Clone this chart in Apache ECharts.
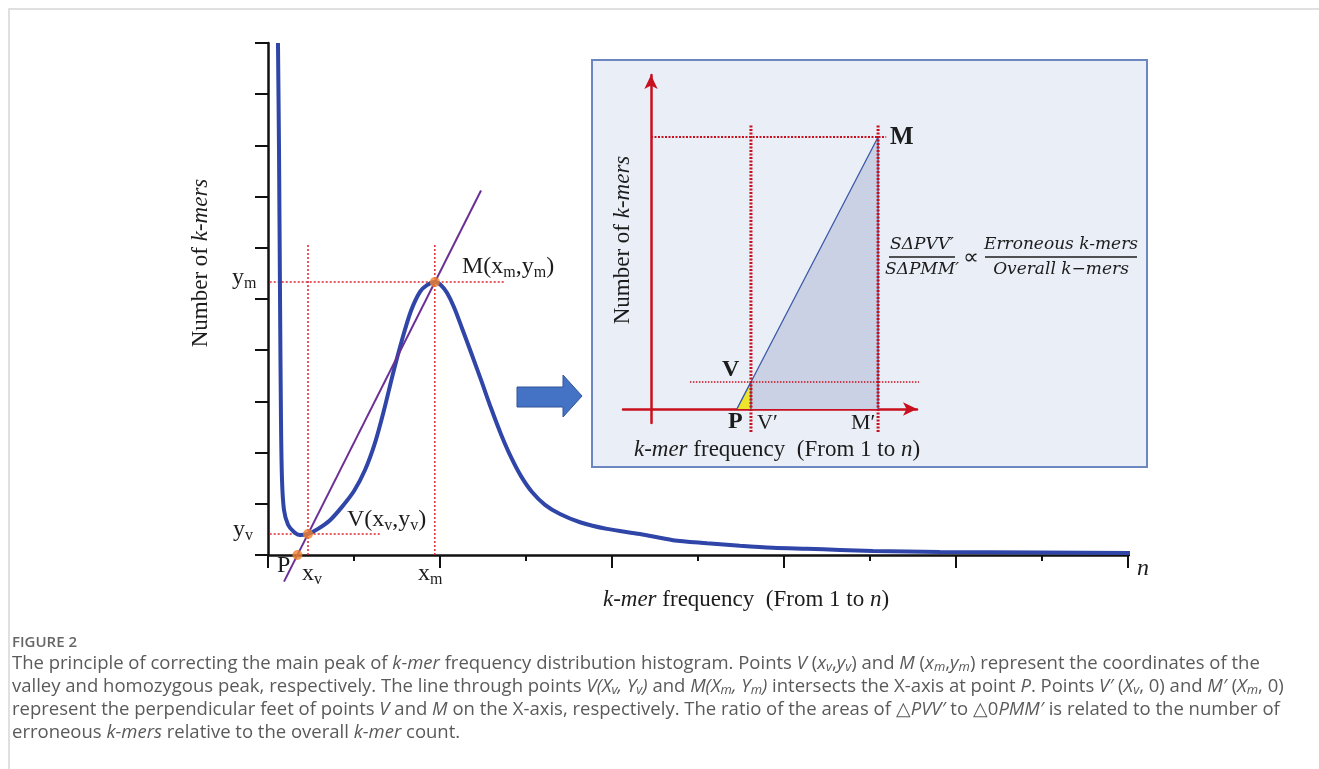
<!DOCTYPE html>
<html>
<head>
<meta charset="utf-8">
<script src="https://cdn.jsdelivr.net/npm/echarts@6/dist/echarts.min.js"></script>
<style>
html, body { margin: 0; padding: 0; background: #fff; }
#chart { width: 1319px; height: 769px; }
</style>
</head>
<body>
<div id="chart"></div>
<script>
// k-mer frequency curve (x: frequency, y: number of k-mers)
var freqX = [0.116, 0.128, 0.140, 0.151, 0.163, 0.186, 0.233, 0.302, 0.372, 0.465, 0.581, 0.721,
    0.860, 1.000, 1.128, 1.244, 1.349, 1.453, 1.558, 1.663, 1.767, 1.849, 1.940, 2.012,
    2.081, 2.163, 2.256, 2.360, 2.477, 2.593, 2.709, 2.826, 2.942, 3.070, 3.221, 3.395,
    3.628, 3.942, 4.326, 4.709, 5.105, 5.488, 5.872, 6.267, 6.651, 7.035, 7.814, 8.977, 10.17];
var countY = [10.0, 7.91, 4.98, 2.64, 1.46, 0.88, 0.59, 0.45, 0.39, 0.41, 0.51, 0.68,
    0.94, 1.25, 1.66, 2.19, 2.83, 3.54, 4.20, 4.77, 5.14, 5.27, 5.33, 5.27,
    5.12, 4.84, 4.43, 3.96, 3.42, 2.87, 2.36, 1.91, 1.54, 1.23, 0.98, 0.80,
    0.64, 0.51, 0.41, 0.29, 0.23, 0.18, 0.14, 0.12, 0.10, 0.08, 0.06, 0.05, 0.04];

// key points of the main plot
var valleyV = [0.465, 0.41];
var peakM = [1.94, 5.33];
var pointP = [0.342, 0];
var fitLineX = [0.186, 2.477];
var fitLineY = [-0.52, 7.12];
var guideTop = 6.09;
var ymGuideEnd = 2.76;
var yvGuideEnd = 1.30;
var axisEnd = 10.17;

// inset sketch (its own units)
var insetP = [3.07, 0];
var insetV = [3.57, 1.93];
var insetM = [8.11, 19.43];
var insetGuideY = [-1.64, 20.29];
var insetMGuideX = [0, 8.4];
var insetVGuideX = [1.39, 9.86];

var serif = "'Liberation Serif', 'Times New Roman', serif";
var sans = "'Open Sans', sans-serif";
var ink = '#1c1c1c';
var red = '#e0242b';
var darkRed = '#c8101e';
var capInk = '#5a5a5a';

var chart = echarts.init(document.getElementById('chart'));

function lineSeries(data, xi, color, width, type, z) {
    return {
        type: 'line', xAxisIndex: xi, yAxisIndex: xi, data: data,
        symbol: 'none', silent: true, clip: false, z: z || 5,
        lineStyle: { color: color, width: width, type: type || 'solid' }
    };
}

// rich text styles
function labRich(fs, sfs, fw) {
    return {
        b: { fontFamily: serif, fontSize: fs, fontWeight: fw, lineHeight: fs + 6, verticalAlign: 'middle', fill: ink },
        i: { fontFamily: serif, fontSize: fs, fontStyle: 'italic', lineHeight: fs + 6, verticalAlign: 'middle', fill: ink },
        s: { fontFamily: serif, fontSize: sfs, lineHeight: sfs + 2, height: sfs + 2, verticalAlign: 'bottom', fill: ink }
    };
}
function lab(x, y, text, fs, opt) {
    opt = opt || {};
    return {
        type: 'text', x: x, y: y, z: 20, rotation: opt.rot || 0, silent: true,
        style: {
            text: text, rich: labRich(fs, opt.sfs || 16, opt.fw || 'normal'),
            fontFamily: serif, fontSize: fs, lineHeight: fs + 6, fill: ink,
            align: opt.align || 'left', verticalAlign: 'middle'
        }
    };
}

var capRich = {
    i: { fontFamily: sans, fontSize: 18.5, fontStyle: 'italic', lineHeight: 22, verticalAlign: 'middle', fill: capInk },
    is: { fontFamily: sans, fontSize: 13, fontStyle: 'italic', lineHeight: 14, height: 15, verticalAlign: 'bottom', fill: capInk }
};
function cap(y, text) {
    return {
        type: 'text', x: 12, y: y, z: 20, silent: true,
        style: {
            text: text, rich: capRich, fontFamily: sans, fontSize: 18.5, lineHeight: 22,
            fill: capInk, align: 'left', verticalAlign: 'middle'
        }
    };
}
function mathText(x, y, text) {
    return {
        type: 'text', x: x, y: y, z: 20, silent: true,
        style: {
            text: text, fontFamily: "'DejaVu Serif', serif", fontStyle: 'italic', fontSize: 17,
            fill: ink, align: 'center', verticalAlign: 'middle'
        }
    };
}

var curve = freqX.map(function (x, i) { return [x, countY[i]]; });

var option = {
    animation: false,
    backgroundColor: '#fff',
    grid: [
        { left: 268, top: 43, width: 860, height: 512, outerBoundsMode: 'none' },
        { left: 623, top: 75, width: 294, height: 348, outerBoundsMode: 'none' }
    ],
    xAxis: [
        {
            type: 'value', gridIndex: 0, min: 0, max: 10, interval: 2, z: 3,
            axisLine: { show: true, onZero: false, lineStyle: { color: '#111', width: 2.5 } },
            axisTick: { show: true, length: 13, lineStyle: { color: '#111', width: 2 } },
            minorTick: { show: true, splitNumber: 2, length: 6, lineStyle: { color: '#111', width: 2 } },
            axisLabel: { show: false }, splitLine: { show: false }, minorSplitLine: { show: false }
        },
        {
            type: 'value', gridIndex: 1, min: -1, max: 9.5, z: 3,
            axisLine: { show: true, onZero: true, symbol: ['none', 'arrow'], symbolSize: [10, 14],
                lineStyle: { color: darkRed, width: 2.5 } },
            axisTick: { show: false }, axisLabel: { show: false }, splitLine: { show: false }
        }
    ],
    yAxis: [
        {
            type: 'value', gridIndex: 0, min: 0, max: 10, interval: 1, z: 3,
            axisLine: { show: true, onZero: false, lineStyle: { color: '#111', width: 2.5 } },
            axisTick: { show: true, length: 13, lineStyle: { color: '#111', width: 2 } },
            axisLabel: { show: false }, splitLine: { show: false }
        },
        {
            type: 'value', gridIndex: 1, min: -1, max: 23.86, z: 3,
            axisLine: { show: true, onZero: true, symbol: ['none', 'arrow'], symbolSize: [10, 14],
                lineStyle: { color: darkRed, width: 2.5 } },
            axisTick: { show: false }, axisLabel: { show: false }, splitLine: { show: false }
        }
    ],
    series: [
        // main plot
        lineSeries([[10, 0], [axisEnd, 0]], 0, '#111', 2.5, 'solid', 4),
        lineSeries([[0.02, peakM[1]], [ymGuideEnd, peakM[1]]], 0, red, 1.5, [2, 2], 5),
        lineSeries([[peakM[0], 0], [peakM[0], guideTop]], 0, red, 1.5, [2, 2], 5),
        lineSeries([[valleyV[0], 0], [valleyV[0], guideTop]], 0, red, 1.5, [2, 2], 5),
        lineSeries([[0.02, valleyV[1]], [yvGuideEnd, valleyV[1]]], 0, red, 1.5, [2, 2], 5),
        {
            type: 'line', xAxisIndex: 0, yAxisIndex: 0, data: curve, smooth: 0.3,
            symbol: 'none', silent: true, z: 6,
            lineStyle: { color: '#2f45a8', width: 4 }
        },
        lineSeries([[fitLineX[0], fitLineY[0]], [fitLineX[1], fitLineY[1]]], 0, '#6b2f96', 2, 'solid', 7),
        {
            type: 'scatter', xAxisIndex: 0, yAxisIndex: 0, data: [pointP, valleyV, peakM],
            symbolSize: 10, silent: true, z: 8,
            itemStyle: { color: '#f0822e' }
        },
        // inset sketch
        {
            type: 'line', xAxisIndex: 1, yAxisIndex: 1, z: 4, silent: true, symbol: 'none',
            data: [insetP, insetM, [insetM[0], 0]],
            lineStyle: { color: '#3d5aa8', width: 1.3 },
            areaStyle: { color: '#cad1e4', opacity: 1 }
        },
        {
            type: 'line', xAxisIndex: 1, yAxisIndex: 1, z: 5, silent: true, symbol: 'none',
            data: [insetP, insetV, [insetV[0], 0]],
            lineStyle: { color: '#3d5aa8', width: 1.3 },
            areaStyle: { color: '#ede52b', opacity: 1 }
        },
        lineSeries([[insetV[0], insetGuideY[0]], [insetV[0], insetGuideY[1]]], 1, darkRed, 3, [2, 1.5], 6),
        lineSeries([[insetM[0], insetGuideY[0]], [insetM[0], insetGuideY[1]]], 1, darkRed, 3, [2, 1.5], 6),
        lineSeries([[insetMGuideX[0], insetM[1]], [insetMGuideX[1], insetM[1]]], 1, darkRed, 2.2, [2, 1.5], 6),
        lineSeries([[insetVGuideX[0], insetV[1]], [insetVGuideX[1], insetV[1]]], 1, darkRed, 1.5, [1.5, 1.5], 6)
    ],
    graphic: [
        { type: 'rect', z: 1, silent: true, shape: { x: 9, y: 9, width: 1330, height: 780 },
            style: { fill: 'none', stroke: '#d6d6d6', lineWidth: 1.5 } },
        { type: 'rect', z: 1, silent: true, shape: { x: 592, y: 60, width: 555, height: 407 },
            style: { fill: '#e9eef7', stroke: '#6c87bf', lineWidth: 2 } },
        { type: 'polygon', z: 2, silent: true,
            shape: { points: [[517, 387], [563, 387], [563, 375], [582, 396], [563, 417], [563, 407], [517, 407]] },
            style: { fill: '#4472c4', stroke: '#2f5597', lineWidth: 1 } },

        // main plot labels
        lab(201, 263, '{b|Number of }{i|k-mers}', 23, { rot: Math.PI / 2, align: 'center' }),
        lab(746, 600, '{i|k-mer}{b| frequency  (From 1 to }{i|n}{b|)}', 23, { align: 'center' }),
        lab(232, 278, '{b|y}{s|m}', 24),
        lab(233, 530, '{b|y}{s|v}', 24),
        lab(277, 566, '{b|P}', 24),
        lab(302, 574, '{b|x}{s|v}', 24),
        lab(418, 574, '{b|x}{s|m}', 24),
        lab(462, 267, '{b|M(x}{s|m}{b|,y}{s|m}{b|)}', 24),
        lab(347, 520, '{b|V(x}{s|v}{b|,y}{s|v}{b|)}', 24),
        lab(1137, 569, '{i|n}', 24),

        // inset labels
        lab(623, 240, '{b|Number of }{i|k-mers}', 23, { rot: Math.PI / 2, align: 'center' }),
        lab(777, 450, '{i|k-mer}{b| frequency  (From 1 to }{i|n}{b|)}', 23, { align: 'center' }),
        lab(890, 138, '{b|M}', 25, { fw: 'bold' }),
        lab(722, 370, '{b|V}', 24, { fw: 'bold' }),
        lab(728, 422, '{b|P}', 24, { fw: 'bold' }),
        lab(757, 423, '{b|V′}', 22),
        lab(851, 423, '{b|M′}', 22),

        // ratio formula
        mathText(922, 245, 'SΔPVV′'),
        mathText(922, 270, 'SΔPMM′'),
        { type: 'line', z: 20, silent: true, shape: { x1: 889, y1: 257, x2: 955, y2: 257 },
            style: { stroke: ink, lineWidth: 1.5 } },
        { type: 'text', x: 971, y: 258, z: 20, silent: true,
            style: { text: '∝', fontFamily: "'DejaVu Sans', sans-serif", fontSize: 22, fill: ink,
                align: 'center', verticalAlign: 'middle' } },
        mathText(1061, 245, 'Erroneous k-mers'),
        mathText(1061, 270, 'Overall k−mers'),
        { type: 'line', z: 20, silent: true, shape: { x1: 985, y1: 257, x2: 1137, y2: 257 },
            style: { stroke: ink, lineWidth: 1.5 } },

        // caption
        { type: 'text', x: 12, y: 643, z: 20, silent: true,
            style: { text: 'FIGURE 2', fontFamily: sans, fontSize: 15, fontWeight: 600, fill: '#666',
                align: 'left', verticalAlign: 'middle' } },
        cap(664, 'The principle of correcting the main peak of {i|k-mer} frequency distribution histogram. Points {i|V} ({i|x}{is|v},{i|y}{is|v}) and {i|M} ({i|x}{is|m},{i|y}{is|m}) represent the coordinates of the'),
        cap(687, 'valley and homozygous peak, respectively. The line through points {i|V(X}{is|v}{i|, Y}{is|v}{i|)} and {i|M(X}{is|m}{i|, Y}{is|m}{i|)} intersects the X-axis at point {i|P}. Points {i|V′} ({i|X}{is|v}, 0) and {i|M′} ({i|X}{is|m}, 0)'),
        cap(710, 'represent the perpendicular feet of points {i|V} and {i|M} on the X-axis, respectively. The ratio of the areas of △{i|PVV′} to △0{i|PMM′} is related to the number of'),
        cap(733, 'erroneous {i|k-mers} relative to the overall {i|k-mer} count.')
    ]
};
chart.setOption(option);
window.onresize = chart.resize;
</script>
</body>
</html>
